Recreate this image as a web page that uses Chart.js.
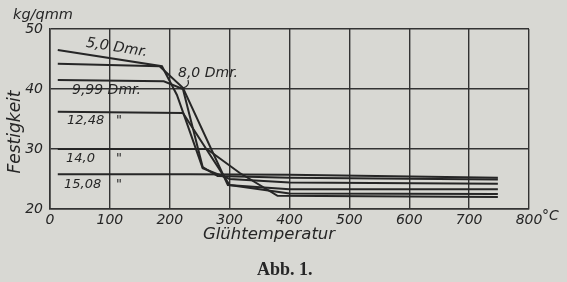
<!DOCTYPE html>
<html><head><meta charset="utf-8">
<script src="https://cdn.jsdelivr.net/npm/chart.js@4"></script>
<style>html,body{margin:0;padding:0;background:#d8d8d3;}canvas{display:block;}</style>
</head><body>
<canvas id="c" width="567" height="282"></canvas>
<script>
// Data (temperature °C, Festigkeit kg/qmm)
const seriesNames = ["5,0 Dmr.", "8,0 Dmr.", "9,99 Dmr.", "12,48 \"", "14,0 \"", "15,08 \""];
const temps1 = [13, 187, 212, 255, 300, 400, 748];
const vals1  = [46.5, 43.8, 39.0, 26.8, 25.0, 24.4, 24.2];
const temps2 = [13, 183, 222, 297, 400, 748];
const vals2  = [44.2, 43.8, 40.2, 24.0, 23.3, 23.3];
const temps3 = [13, 190, 222, 255, 280, 400, 748];
const vals3  = [41.5, 41.3, 40.0, 27.0, 25.5, 25.2, 24.9];
const temps4 = [13, 222, 300, 400, 748];
const vals4  = [36.2, 36.0, 24.0, 22.6, 22.5];
const temps5 = [13, 262, 317, 380, 748];
const vals5  = [30.0, 30.0, 26.0, 22.2, 22.0];
const temps6 = [13, 235, 400, 748];
const vals6  = [25.8, 25.8, 25.7, 25.2];
const xTicks = [0, 100, 200, 300, 400, 500, 600, 700, 800];
const yTicks = [20, 30, 40, 50];

const ink = '#262626';
const font = '"DejaVu Sans", sans-serif';
const pairs = (t, v) => t.map((x, i) => ({x: x, y: v[i]}));
const allT = [temps1, temps2, temps3, temps4, temps5, temps6];
const allV = [vals1, vals2, vals3, vals4, vals5, vals6];

const labelsPlugin = {
  id: 'labels',
  afterDraw(chart) {
    const c = chart.ctx;
    const xs = chart.scales.x, ys = chart.scales.y;
    c.save();
    c.fillStyle = ink;
    c.textBaseline = 'middle';
    // unit
    c.font = 'italic 14.5px ' + font;
    c.textAlign = 'left';
    c.fillText('kg/qmm', 13, 15);
    // °C
    c.font = 'italic 14px ' + font;
    c.fillText('°C', xs.getPixelForValue(800) + 13, ys.getPixelForValue(20) + 7);
    // x title
    c.font = 'italic 16.5px ' + font;
    c.textAlign = 'center';
    c.fillText('Glühtemperatur', 269, 235);
    // y title
    c.save();
    c.translate(16, 132);
    c.rotate(-Math.PI / 2);
    c.font = 'italic 17px ' + font;
    c.fillText('Festigkeit', 0, 0);
    c.restore();
    // series labels
    c.textAlign = 'left';
    c.font = 'italic 14.5px ' + font;
    c.save();
    c.translate(86, 43);
    c.rotate(0.155);
    c.fillText(seriesNames[0], 0, 0);
    c.restore();
    c.font = 'italic 14px ' + font;
    c.fillText(seriesNames[1], 178, 73);
    c.fillText(seriesNames[2], 72, 90);
    c.font = 'italic 13px ' + font;
    c.fillText('12,48', 67, 121);
    c.fillText('14,0', 66, 159);
    c.fillText('15,08', 64, 185);
    c.fillText('"', 116, 121);
    c.fillText('"', 116, 159);
    c.fillText('"', 116, 185);
    // leader for 8,0
    c.strokeStyle = ink; c.lineWidth = 1.2;
    c.beginPath();
    c.moveTo(183, 88);
    c.quadraticCurveTo(190, 86, 188, 80);
    c.stroke();
    // caption
    c.font = 'bold 18px "Liberation Serif", serif';
    c.textAlign = 'left';
    c.fillText('Abb. 1.', 257, 270);
    c.restore();
  }
};

new Chart(document.getElementById('c'), {
  type: 'scatter',
  data: {
    datasets: allT.map((t, i) => ({
      label: seriesNames[i],
      data: pairs(t, allV[i]),
      showLine: true,
      borderColor: ink,
      borderWidth: 2,
      pointRadius: 0,
      tension: 0,
      fill: false
    }))
  },
  options: {
    responsive: false,
    animation: false,
    events: [],
    layout: {padding: {left: 0, right: 38, top: 29, bottom: 0}},
    plugins: {legend: {display: false}, tooltip: {enabled: false}},
    scales: {
      x: {
        type: 'linear', min: 0, max: 800,
        afterBuildTicks: s => { s.ticks = xTicks.map(v => ({value: v})); },
        afterFit: s => { s.height = 73; },
        grid: {color: '#333333', lineWidth: 1.4, drawTicks: false},
        border: {display: true, color: '#333333', width: 1.6},
        ticks: {color: ink, padding: 3, maxRotation: 0, font: {family: font, style: 'italic', size: 14}}
      },
      y: {
        type: 'linear', min: 20, max: 50,
        afterBuildTicks: s => { s.ticks = yTicks.map(v => ({value: v})); },
        afterFit: s => { s.width = 50; },
        grid: {color: '#333333', lineWidth: 1.4, drawTicks: false},
        border: {display: true, color: '#333333', width: 1.6},
        ticks: {color: ink, padding: 7, font: {family: font, style: 'italic', size: 14}}
      }
    }
  },
  plugins: [labelsPlugin]
});
</script>
</body></html>
